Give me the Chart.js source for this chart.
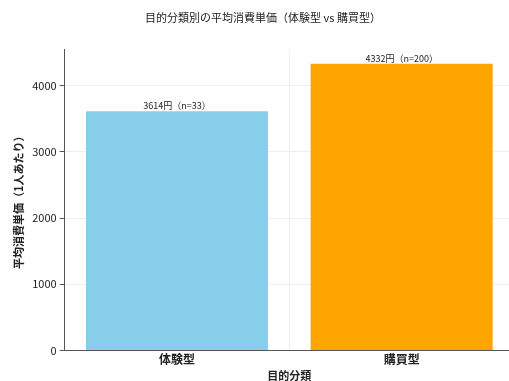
<!DOCTYPE html>
<html>
<head>
<meta charset="utf-8">
<script src="https://cdn.jsdelivr.net/npm/chart.js@4/dist/chart.umd.min.js"></script>
<style>
  html, body { margin: 0; padding: 0; background: #fff; overflow: hidden; }
  #wrap { width: 514px; height: 382px; }
</style>
</head>
<body>
<div id="wrap"><canvas id="chart"></canvas></div>
<script>
// データ
const categories = ['体験型', '購買型'];
const avgSpend = [3614, 4332];
const sampleSizes = [33, 200];
const barColors = ['#87CEEB', '#FFA500'];
const yTicks = [0, 1000, 2000, 3000, 4000];

const fontFamily = '"Noto Sans CJK JP", "DejaVu Sans", sans-serif';

// バーの上にラベルを描く
const barLabels = {
  id: 'barLabels',
  afterDatasetsDraw(chart) {
    const ctx = chart.ctx;
    const meta = chart.getDatasetMeta(0);
    ctx.save();
    ctx.font = '9px ' + fontFamily;
    ctx.fillStyle = '#222';
    ctx.textAlign = 'center';
    ctx.textBaseline = 'bottom';
    meta.data.forEach((bar, i) => {
      ctx.fillText(avgSpend[i] + '円（n=' + sampleSizes[i] + '）', bar.x, bar.y - 1);
    });
    ctx.restore();
  }
};

new Chart(document.getElementById('chart'), {
  type: 'bar',
  data: {
    labels: categories,
    datasets: [{
      data: avgSpend,
      backgroundColor: barColors,
      borderWidth: 0,
      categoryPercentage: 0.81,
      barPercentage: 1.0
    }]
  },
  options: {
    responsive: true,
    maintainAspectRatio: false,
    animation: false,
    layout: { padding: { left: 12, right: 0, top: 0, bottom: 0 } },
    plugins: {
      legend: { display: false },
      tooltip: { enabled: false },
      title: {
        display: true,
        text: '目的分類別の平均消費単価（体験型 vs 購買型）',
        color: '#222',
        font: { family: fontFamily, size: 11, weight: 'normal' },
        padding: { top: 11, bottom: 25 }
      }
    },
    scales: {
      x: {
        grid: { display: true, color: '#eeeeee', drawTicks: false },
        border: { color: '#555', width: 1 },
        ticks: { color: '#222', font: { family: fontFamily, size: 12, weight: 'bold' }, padding: 2 },
        title: {
          display: true,
          text: '目的分類',
          color: '#222',
          font: { family: fontFamily, size: 11, weight: 'bold' },
          padding: { top: 0, bottom: 0 }
        }
      },
      y: {
        min: 0,
        max: 4550,
        afterBuildTicks(axis) {
          axis.ticks = yTicks.map(v => ({ value: v }));
        },
        grid: { color: '#eeeeee', tickColor: '#555', tickLength: 5 },
        border: { color: '#555', width: 1 },
        ticks: {
          color: '#222',
          font: { family: fontFamily, size: 11 },
          padding: 3,
          callback: v => String(v)
        },
        title: {
          display: true,
          text: '平均消費単価（1人あたり）',
          color: '#222',
          font: { family: fontFamily, size: 11, weight: 'bold' },
          padding: { top: 0, bottom: 4 }
        }
      }
    }
  },
  plugins: [barLabels]
});
</script>
</body>
</html>
